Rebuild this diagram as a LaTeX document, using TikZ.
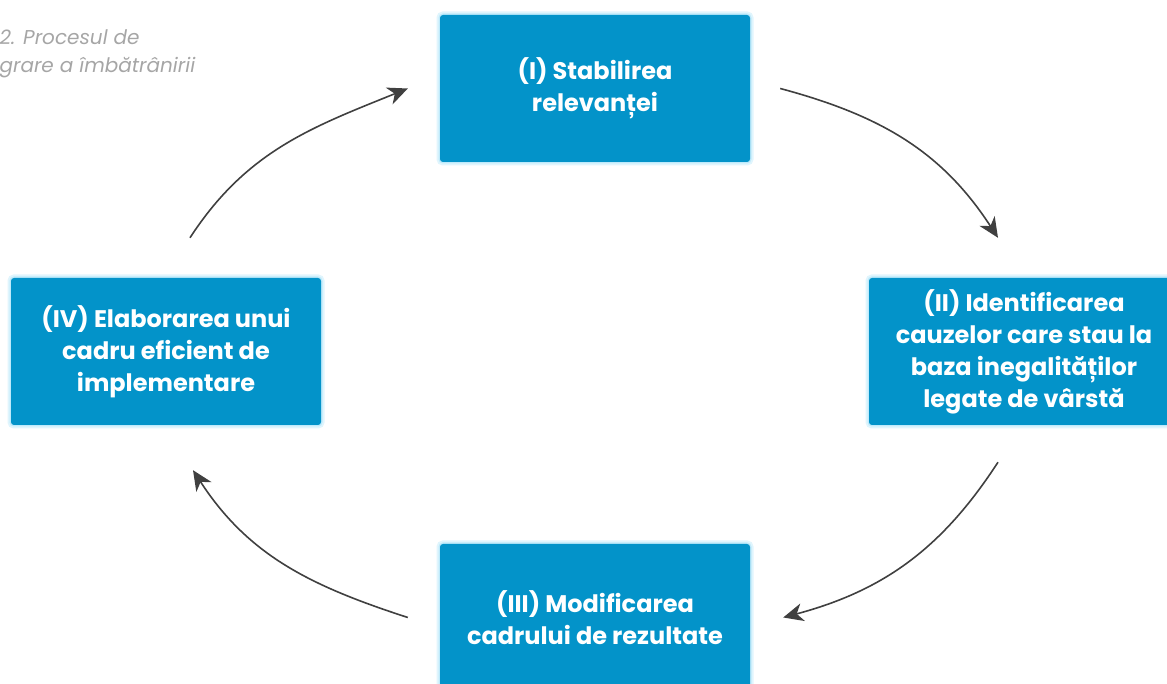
\documentclass[tikz,border=0pt]{standalone}
\usepackage{fontspec}
\setmainfont{Poppins}
\usetikzlibrary{arrows.meta}
\definecolor{boxblue}{HTML}{0393C9}
\definecolor{arrowgray}{HTML}{404040}
\tikzset{
  stage/.style={fill=boxblue, text=white, rounded corners=3pt,
    minimum width=310pt, minimum height=147pt, align=center,
    font=\fontsize{24}{32}\selectfont\bfseries,
    preaction={draw=cyan!12, line width=7pt},
    preaction={draw=cyan!25, line width=3pt}},
  cycle/.style={draw=arrowgray, line width=1.6pt,
    -{Stealth[length=20pt,width=18pt,inset=6pt]}}
}

\begin{document}
\begin{tikzpicture}[x=1pt,y=1pt]
  \clip (0,0) rectangle (1167,684);
  \node [anchor=west, align=left, text=gray!70, font=\fontsize{20}{28}\selectfont\itshape]
        (caption) at (-4,630) {2. Procesul de\\grare a îmbătrânirii};
  \node [stage] (I)   at (595,595.5) {(I) Stabilirea\\relevanței};
  \node [stage] (II)  at (1024,332.5) {(II) Identificarea\\cauzelor care stau la\\baza inegalităților\\legate de vârstă};
  \node [stage] (III) at (595,66.5) {(III) Modificarea\\cadrului de rezultate};
  \node [stage] (IV)  at (166,332.5) {(IV) Elaborarea unui\\cadru eficient de\\implementare};
  % cycle arrows
  \draw [cycle] ([xshift=24pt,yshift=40pt]IV.north) to[out=57,in=202] ([xshift=-32pt]I.west);
  \draw [cycle] ([xshift=30pt]I.east) to[out=-15,in=123] ([xshift=-26pt,yshift=40pt]II.north);
  \draw [cycle] ([xshift=-26pt,yshift=-37pt]II.south) to[out=-123,in=15] ([xshift=33pt]III.east);
  \draw [cycle] ([xshift=-32pt]III.west) to[out=162,in=-57] ([xshift=27pt,yshift=-45pt]IV.south);
\end{tikzpicture}
\end{document}
